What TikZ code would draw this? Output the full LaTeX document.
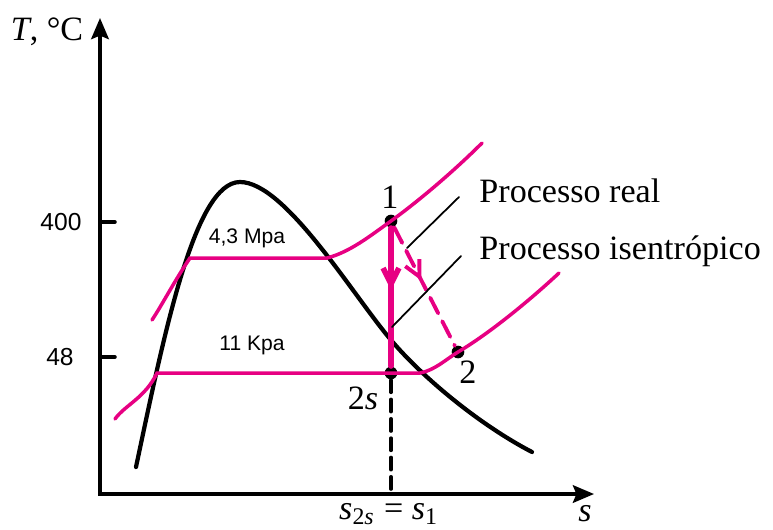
\documentclass[tikz,border=0pt]{standalone}
\usepackage{fontspec}
\setmainfont{Liberation Serif}
\newfontfamily\arial{Liberation Sans}
\usetikzlibrary{arrows.meta,decorations.markings}
\definecolor{rosa}{RGB}{231,0,130}

\begin{document}
\begin{tikzpicture}[x=0.01cm, y=-0.01cm, line cap=round,
    font=\fontsize{9.7}{12}\selectfont,
    ponto/.style={circle, fill=black, inner sep=0pt, minimum size=3.6pt},
    eixo/.style={line width=1pt, {Stealth[length=6pt,width=5pt,inset=1pt]}-{Stealth[length=6pt,width=5pt,inset=1pt]}},
    curva/.style={rosa, line width=1pt},
    rotulo/.style={font=\arial\fontsize{6}{7}\selectfont},
    valor/.style={font=\arial\fontsize{7}{8}\selectfont},
    seta/.style={postaction={decorate, decoration={markings,
        mark=at position #1 with {\arrow{Straight Barb[length=4.5pt,width=4.5pt]}}}}}]
    \useasboundingbox (0,0) rectangle (773,529);

    % Pontos do ciclo
    \node[ponto] (p1) at (391,221) {};
    \node[ponto] (p2s) at (391,373) {};
    \node[ponto] (p2) at (458,352) {};
    \coordinate (base) at (391,494);

    % 1. Eixos e marcas
    \draw[eixo] (100,18) -- (100,494) -- (594,494);
    \draw[line width=1pt] (100,222) -- (115,222);
    \draw[line width=1pt] (100,357) -- (115,357);

    % 2. Curva de saturacao (domo)
    \draw[line width=1.2pt] (136,467) .. controls (165,330) and (195,182) .. (240,182)
        .. controls (285,182) and (352,294) .. (391,340)
        .. controls (423,378) and (480,425) .. (532,452);

    % 3. Isobaricas (4,3 MPa em cima, 11 kPa embaixo)
    \draw[curva] (152,320) .. controls (162,305) and (175,280) .. (190,258) -- (327,258)
        .. controls (350,252) and (370,236) .. (391,221) .. controls (420,200) and (455,170) .. (482,143);
    \draw[curva] (115,419) .. controls (125,405) and (145,398) .. (157,373) -- (420,373)
        .. controls (435,370) and (445,360) .. (458,352) .. controls (490,333) and (530,300) .. (559,273);

    % 4. Processos 1-2s e 1-2
    \draw[rosa, line width=1.6pt, seta=0.45] (p1) -- (p2s);
    \draw[rosa, line width=1.1pt, dash pattern=on 5pt off 2.5pt, seta=0.45] (p1) -- (p2);
    \draw[line width=1pt, dash pattern=on 3.5pt off 2pt] (p2s) -- (base);

    % 5. Textos
    \node[anchor=base] (eixoT) at (47,40) {\textit{T}, °C};
    \node[anchor=base] (eixoS) at (585,521) {\textit{s}};
    \node[anchor=base] (s1) at (389,519) {\textit{s}\textsubscript{2\textit{s}} = \textit{s}\textsubscript{1}};
    \node[valor] (t400) at (61,222) {400};
    \node[valor] (t48) at (60,357) {48};
    \node[rotulo] (pa) at (247,238) {4,3 Mpa};
    \node[rotulo] (pb) at (252,345) {11 Kpa};
    \node (n1) at (390,197) {1};
    \node (n2) at (468,372) {2};
    \node (n2s) at (363,398) {2\textit{s}};
    \node[anchor=base west] (real) at (467,202) {Processo real};
    \node[anchor=base west] (isen) at (467,259) {Processo isentrópico};
    \draw[line width=0.5pt] ([shift={(-8,-5)}]real.base west) -- (407,248);
    \draw[line width=0.5pt] ([shift={(-6,-3)}]isen.base west) -- (392,327);
\end{tikzpicture}
\end{document}
